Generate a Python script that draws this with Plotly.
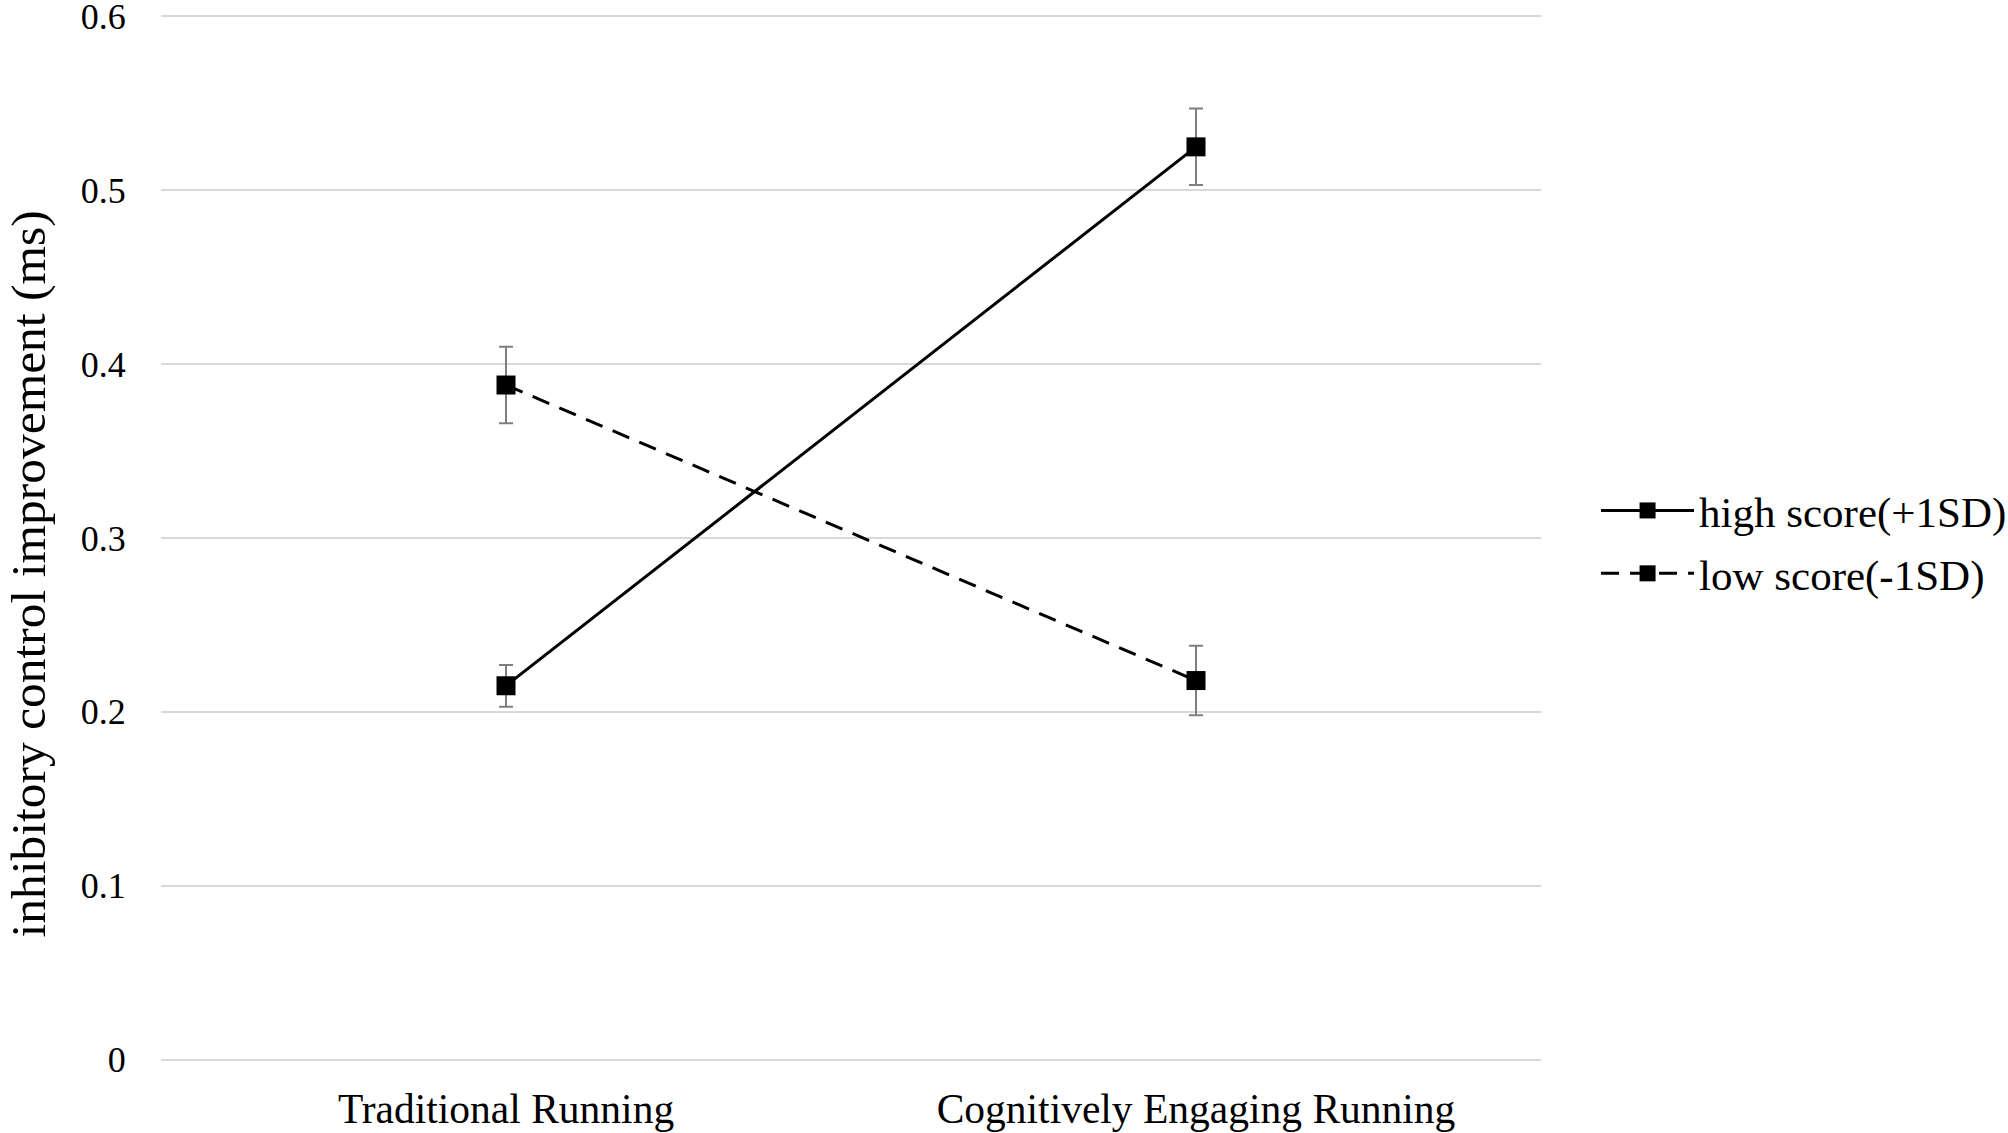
import plotly.graph_objects as go

categories = ["Traditional Running", "Cognitively Engaging Running"]
high_vals = [0.215, 0.525]
high_err = [0.012, 0.022]
low_vals = [0.388, 0.218]
low_err = [0.022, 0.020]
y_ticks = [0, 0.1, 0.2, 0.3, 0.4, 0.5, 0.6]
y_tick_text = ["0", "0.1", "0.2", "0.3", "0.4", "0.5", "0.6"]

FONT = "Liberation Serif, Times New Roman, serif"

fig = go.Figure()
fig.add_trace(go.Scatter(
    x=categories, y=high_vals, name="high score(+1SD)", mode="lines+markers",
    legendgroup="high",
    line=dict(color="black", width=3),
    marker=dict(symbol="square", size=19, color="black"),
    error_y=dict(type="data", array=high_err, visible=True, color="#7f7f7f", thickness=2, width=7),
))
fig.add_trace(go.Scatter(
    x=categories, y=low_vals, name="low score(-1SD)", mode="lines+markers",
    legendgroup="low",
    line=dict(color="black", width=3, dash="18px,11px"),
    marker=dict(symbol="square", size=19, color="black"),
    error_y=dict(type="data", array=low_err, visible=True, color="#7f7f7f", thickness=2, width=7),
))

fig.update_layout(
    width=2008, height=1133,
    margin=dict(l=161, r=467, t=13, b=70, autoexpand=False),
    paper_bgcolor="white", plot_bgcolor="white",
    font=dict(family=FONT, color="black"),
    showlegend=True,
    legend=dict(x=1.0399, xanchor="left", y=0.4962, yanchor="middle",
                font=dict(size=43, family=FONT), itemwidth=93,
                bgcolor="rgba(0,0,0,0)", borderwidth=0, tracegroupgap=4),
    xaxis=dict(type="category", range=[-0.5, 1.5], showgrid=False, zeroline=False,
               showline=False, ticks="outside", ticklen=9, tickcolor="rgba(0,0,0,0)",
               automargin=False,
               tickfont=dict(size=41.5, family=FONT)),
    yaxis=dict(range=[-0.002, 0.602], tickvals=y_ticks, ticktext=y_tick_text,
               showgrid=True, gridcolor="#d9d9d9", gridwidth=2, zeroline=False,
               showline=False, ticks="outside", ticklen=27, tickcolor="rgba(0,0,0,0)",
               automargin=False, ticklabeloverflow="allow",
               tickfont=dict(size=36, family=FONT)),
    annotations=[dict(text="inhibitory control improvement (ms)", textangle=-90,
                      xref="paper", yref="paper", x=-0.1181, y=0.4657,
                      xanchor="left", yanchor="middle", showarrow=False,
                      font=dict(size=49.5, family=FONT, color="black"))],
)

fig.write_html(
    "out.html",
    config={"displayModeBar": False},
    post_script="document.body.style.margin='0px';document.body.style.overflow='hidden';",
)
